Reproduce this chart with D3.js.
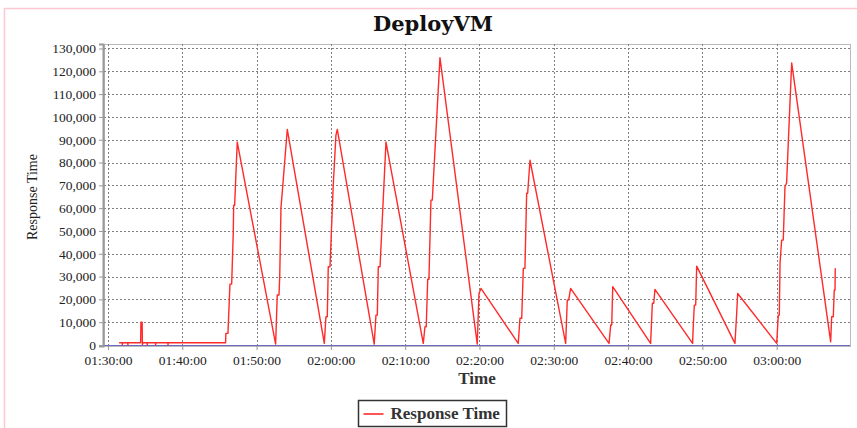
<!DOCTYPE html>
<html>
<head>
<meta charset="utf-8">
<script src="https://cdn.jsdelivr.net/npm/d3@7"></script>
<style>
  body { margin: 0; background: #fff; }
  svg { display: block; }
</style>
</head>
<body>
<div id="container"></div>
<script>
// DeployVM response time samples (time of day, ms)
var times = [
  "01:31:30","01:31:55","01:31:56","01:31:57","01:32:40","01:32:41","01:32:42",
  "01:34:24","01:34:26","01:34:36","01:34:38","01:34:44","01:35:16","01:35:17","01:35:18",
  "01:36:24","01:36:25","01:36:26","01:38:04","01:38:05","01:38:06",
  "01:45:50","01:45:52","01:46:09","01:46:25","01:46:39","01:46:52","01:46:55","01:47:03","01:47:24",
  "01:52:34","01:52:47","01:53:01","01:53:07","01:53:17","01:54:08",
  "01:59:07","01:59:20","01:59:31","01:59:39","01:59:53","02:00:19","02:00:41","02:00:52",
  "02:05:50","02:06:04","02:06:15","02:06:23","02:06:37","02:07:25",
  "02:12:26","02:12:40","02:12:50","02:13:02","02:13:12","02:13:28","02:13:39","02:14:41",
  "02:19:42","02:19:56","02:20:12",
  "02:25:13","02:25:27","02:25:41","02:25:54","02:26:07","02:26:21","02:26:29","02:26:48",
  "02:31:36","02:31:49","02:32:00","02:32:16",
  "02:37:26","02:37:40","02:37:48","02:37:56",
  "02:43:02","02:43:16","02:43:27","02:43:37",
  "02:48:41","02:48:46","02:48:55","02:49:06","02:49:14",
  "02:54:23","02:54:37","02:54:45",
  "03:00:00","03:00:13","03:00:21","03:00:27","03:00:40","03:00:53","03:01:07","03:01:20","03:02:01",
  "03:07:16","03:07:24","03:07:37","03:07:45","03:07:51","03:07:53"
];
var responseTime = [
  1000,1000,100,1000,1000,100,1000,
  1000,10000,10000,200,1000,1000,100,1000,
  1000,100,1000,1000,100,1000,
  1000,5100,5100,26700,26700,49600,61300,61300,89000,
  400,21900,21900,30000,60000,94500,
  700,12400,12400,34300,34300,70000,92000,94500,
  400,13100,13100,34300,34300,89000,
  700,8000,8000,28800,28800,63500,63500,126000,
  400,22600,24800,
  700,11700,11700,33600,33600,66500,66500,81000,
  700,19700,19700,24800,
  700,8800,8800,25600,
  700,18300,18300,24400,
  700,8000,17500,17500,34600,
  700,13900,22600,
  700,13100,13100,35800,46000,46000,69400,71000,123700,
  1400,12400,12400,24100,24100,33600
];
var yTicks = [0,10000,20000,30000,40000,50000,60000,70000,80000,90000,100000,110000,120000,130000];
var timeRange = ["01:29:28", "03:09:52"];
var seriesName = "Response Time";

var width = 857, height = 428;
var plot = {left: 104, top: 44, right: 850, bottom: 346};
var parseTime = d3.timeParse("%H:%M:%S");

var data = times.map(function (t, i) {
    return {t: parseTime(t), v: responseTime[i]};
});

var svg = d3.select("#container").append("svg")
    .attr("width", width)
    .attr("height", height);

// pink outer frame (top + left edges show)
svg.append("path")
    .attr("d", "M4.5," + height + "V8.5H" + width)
    .attr("fill", "none")
    .attr("stroke", "#ffc8d0")
    .attr("stroke-width", 1.5);

var x = d3.scaleTime()
    .domain(timeRange.map(parseTime))
    .range([plot.left, plot.right]);

var y = d3.scaleLinear()
    .domain([-440, 131970])
    .range([plot.bottom, plot.top]);

var serif = "'Liberation Serif', 'Times New Roman', serif";

// plot background + border
svg.append("rect")
    .attr("x", plot.left + 0.5).attr("y", plot.top + 0.5)
    .attr("width", plot.right - plot.left).attr("height", plot.bottom - plot.top)
    .attr("fill", "#fff")
    .attr("stroke", "#bbb");

var xTicks = x.ticks(d3.timeMinute.every(10));

// gridlines
svg.append("g").selectAll("line")
    .data(yTicks)
    .enter().append("line")
    .attr("x1", plot.left).attr("x2", plot.right)
    .attr("y1", function (d) { return Math.round(y(d)) + 0.5 })
    .attr("y2", function (d) { return Math.round(y(d)) + 0.5 })
    .attr("stroke", "#808080")
    .attr("stroke-dasharray", "2,2");

svg.append("g").selectAll("line")
    .data(xTicks)
    .enter().append("line")
    .attr("y1", plot.top).attr("y2", plot.bottom)
    .attr("x1", function (d) { return Math.round(x(d)) + 0.5 })
    .attr("x2", function (d) { return Math.round(x(d)) + 0.5 })
    .attr("stroke", "#808080")
    .attr("stroke-dasharray", "2,2");

// zero baseline (blue)
svg.append("line")
    .attr("x1", plot.left).attr("x2", plot.right)
    .attr("y1", Math.round(y(0)) + 0.5).attr("y2", Math.round(y(0)) + 0.5)
    .attr("stroke", "#6a6ac0")
    .attr("stroke-width", 1);

// y axis
var yAxis = svg.append("g")
    .attr("transform", "translate(" + (plot.left - 1) + ",0)")
    .call(d3.axisLeft(y).tickValues(yTicks).tickFormat(d3.format(",")).tickSize(4).tickPadding(3));
yAxis.select(".domain").attr("stroke", "#999").attr("stroke-width", 2);
yAxis.selectAll(".tick line").attr("stroke", "#999");
yAxis.selectAll("text")
    .attr("font-family", serif).attr("font-size", "13.5px").attr("fill", "#222");

// x axis
var xAxis = svg.append("g")
    .attr("transform", "translate(0," + plot.bottom + ")")
    .call(d3.axisBottom(x).tickValues(xTicks).tickFormat(d3.timeFormat("%H:%M:%S")).tickSize(4).tickPadding(5));
xAxis.select(".domain").remove();
xAxis.selectAll(".tick line").attr("stroke", "#999");
xAxis.selectAll("text")
    .attr("font-family", serif).attr("font-size", "13.5px").attr("fill", "#222");

// line
var line = d3.line()
    .x(function (d) { return x(d.t) })
    .y(function (d) { return y(d.v) });

svg.append("path")
    .datum(data)
    .attr("d", line)
    .attr("fill", "none")
    .attr("stroke", "#ff2a2a")
    .attr("stroke-width", 1.4)
    .attr("stroke-linejoin", "round");

// title
svg.append("text")
    .attr("x", 433).attr("y", 31)
    .attr("text-anchor", "middle")
    .attr("font-family", "'DejaVu Serif', serif")
    .attr("font-weight", "bold")
    .attr("font-size", "21px")
    .attr("fill", "#111")
    .text("DeployVM");

// axis labels
svg.append("text")
    .attr("transform", "translate(37," + ((plot.top + plot.bottom) / 2 + 2) + ") rotate(-90)")
    .attr("text-anchor", "middle")
    .attr("font-family", serif)
    .attr("font-size", "14px")
    .attr("fill", "#222")
    .text("Response Time");

svg.append("text")
    .attr("x", (plot.left + plot.right) / 2).attr("y", 384)
    .attr("text-anchor", "middle")
    .attr("font-family", serif)
    .attr("font-weight", "bold")
    .attr("font-size", "17px")
    .attr("fill", "#333")
    .text("Time");

// legend
var legend = svg.append("g").attr("transform", "translate(358.5,400.5)");
legend.append("rect")
    .attr("width", 148).attr("height", 26)
    .attr("fill", "#fff")
    .attr("stroke", "#333")
    .attr("stroke-width", 1.5);
legend.append("line")
    .attr("x1", 5).attr("x2", 25)
    .attr("y1", 13.5).attr("y2", 13.5)
    .attr("stroke", "#ff2a2a")
    .attr("stroke-width", 1.6);
legend.append("text")
    .attr("x", 32).attr("y", 18.5)
    .attr("font-family", serif)
    .attr("font-weight", "bold")
    .attr("font-size", "17px")
    .attr("fill", "#333")
    .text(seriesName);
</script>
</body>
</html>
